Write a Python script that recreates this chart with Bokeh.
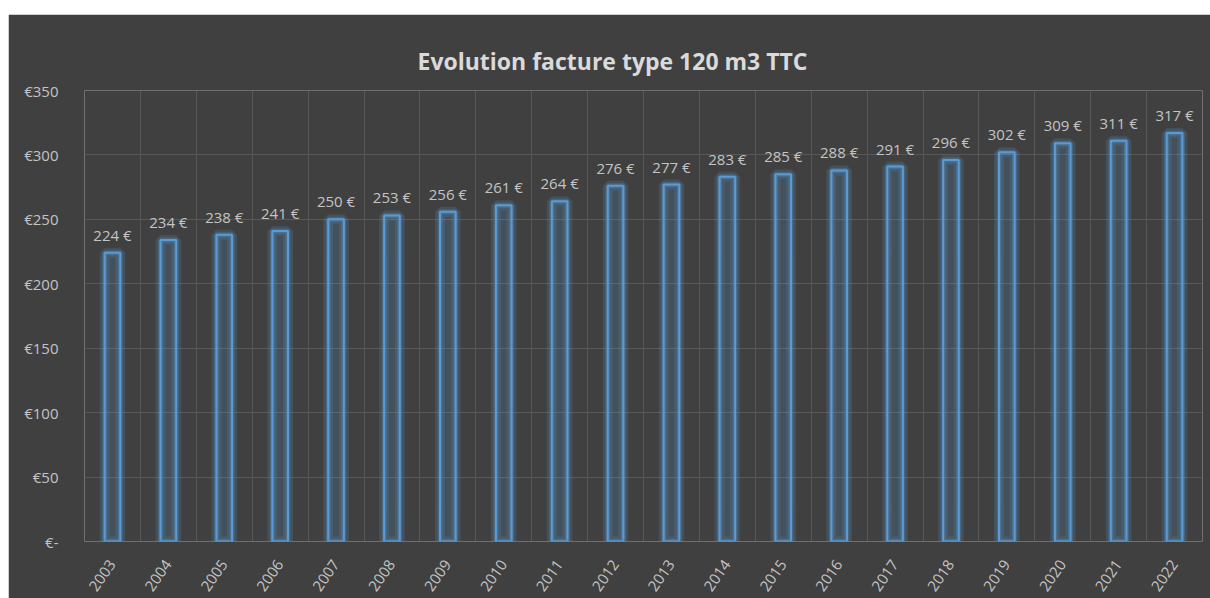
import math
from bokeh.plotting import figure
from bokeh.models import ColumnDataSource, FixedTicker, LabelSet, Spacer
from bokeh.layouts import column, row
from bokeh.core.properties import value
from bokeh.embed import file_html
from bokeh.resources import INLINE

# ---- data ----
years = ["2003", "2004", "2005", "2006", "2007", "2008", "2009", "2010", "2011", "2012",
         "2013", "2014", "2015", "2016", "2017", "2018", "2019", "2020", "2021", "2022"]
values = [224, 234, 238, 241, 250, 253, 256, 261, 264, 276,
          277, 283, 285, 288, 291, 296, 302, 309, 311, 317]
y_ticks = [0, 50, 100, 150, 200, 250, 300, 350]
y_tick_labels = ["€-", "€50", "€100", "€150", "€200", "€250", "€300", "€350"]
title_text = "Evolution facture type 120 m3 TTC"

# ---- derived ----
xs = [i + 0.5 for i in range(len(years))]
bar_labels = [f"{v} €" for v in values]
src = ColumnDataSource(dict(x=xs, top=values, label=bar_labels))

BG = "#404040"
GRID = "#585858"
TXT = "#c4c4c4"
BLUE = "#5B9BD5"
FONT = "Open Sans"

p = figure(width=1202, height=584, x_range=(0, len(years)), y_range=(0, 350),
           output_backend="svg", toolbar_location=None,
           min_border_left=76, min_border_right=8, min_border_top=76, min_border_bottom=57,
           background_fill_color=BG, border_fill_color=BG)
p.outline_line_color = None

p.title.text = title_text
p.title.align = "left"
p.title.offset = 333
p.title.text_font = FONT
p.title.text_font_size = "23px"
p.title.text_font_style = "bold"
p.title.text_color = "#dadada"
p.title.standoff = 27

# glow
p.vbar(x="x", top="top", width=0.28, source=src, fill_color=None,
       line_color=BLUE, line_alpha=0.18, line_width=10)
p.vbar(x="x", top="top", width=0.28, source=src, fill_color=None,
       line_color=BLUE, line_alpha=0.3, line_width=5)
# bar
p.vbar(x="x", top="top", width=0.28, source=src, fill_color=BLUE, fill_alpha=0.18,
       line_color=BLUE, line_width=2)

labels = LabelSet(x="x", y="top", text="label", source=src, x_offset=0, y_offset=12,
                  text_align="center", text_baseline="alphabetic",
                  text_font=value(FONT), text_font_size=value("15px"), text_color=TXT)
p.add_layout(labels)

# axes
p.xaxis.ticker = FixedTicker(ticks=xs)
p.xaxis.major_label_overrides = {x: y for x, y in zip(xs, years)}
p.xaxis.major_label_orientation = math.radians(55)
p.yaxis.ticker = FixedTicker(ticks=y_ticks)
p.yaxis.major_label_overrides = {t: l for t, l in zip(y_ticks, y_tick_labels)}
for ax in (p.xaxis, p.yaxis):
    ax.axis_line_color = None
    ax.major_tick_line_color = None
    ax.minor_tick_line_color = None
    ax.major_label_text_color = TXT
    ax.major_label_text_font = FONT
    ax.major_label_text_font_size = "15px"
p.yaxis.major_label_standoff = 20
p.xaxis.major_label_standoff = 14

p.xgrid.ticker = FixedTicker(ticks=list(range(len(years) + 1)))
p.xgrid.grid_line_color = GRID
p.ygrid.grid_line_color = GRID

layout = column(Spacer(width=1210, height=14),
                row(Spacer(width=8, height=584), p))
open("out.html", "w").write(file_html(layout, INLINE))
